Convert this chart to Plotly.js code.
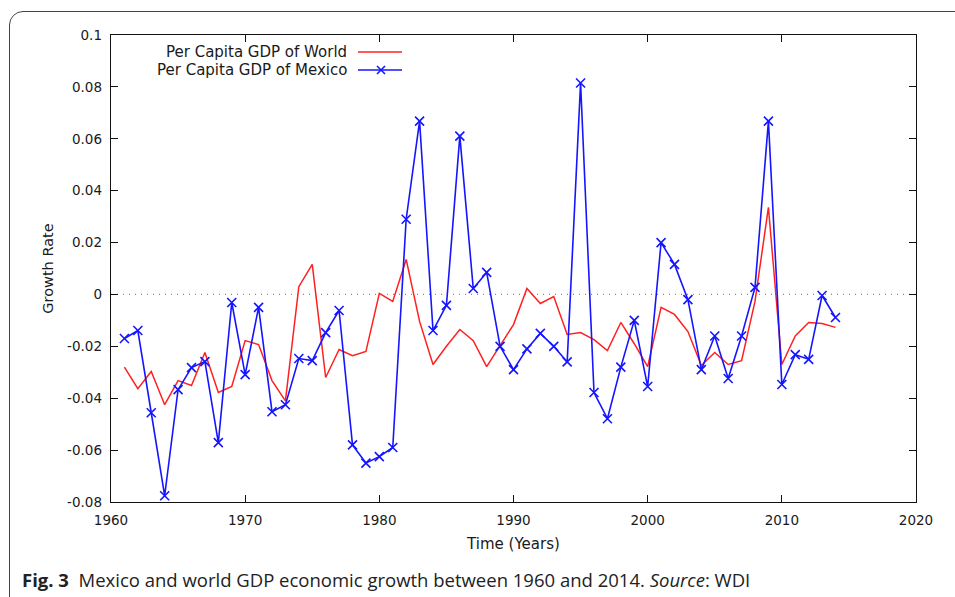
<!DOCTYPE html>
<html>
<head>
<meta charset="utf-8">
<script src="https://cdn.plot.ly/plotly-3.0.1.min.js"></script>
<style>
html,body{margin:0;padding:0;background:#fff;overflow:hidden;width:955px;height:597px;}
#frame{position:absolute;left:9px;top:11px;width:1000px;height:600px;border:1.3px solid #444;border-radius:14px;box-sizing:border-box;}
#chart{position:absolute;left:0;top:0;width:955px;height:597px;}
</style>
</head>
<body>
<div id="frame"></div>
<div id="chart"></div>
<script>
// ---- data ----
const years = [1961,1962,1963,1964,1965,1966,1967,1968,1969,1970,
  1971,1972,1973,1974,1975,1976,1977,1978,1979,1980,
  1981,1982,1983,1984,1985,1986,1987,1988,1989,1990,
  1991,1992,1993,1994,1995,1996,1997,1998,1999,2000,
  2001,2002,2003,2004,2005,2006,2007,2008,2009,2010,
  2011,2012,2013,2014];

const worldGrowth = [-0.028,-0.0363,-0.0297,-0.0425,-0.0332,-0.0351,-0.0224,-0.0378,-0.0355,-0.0178,
  -0.0193,-0.0332,-0.041,0.003,0.0116,-0.032,-0.0212,-0.0236,-0.022,0.0004,
  -0.0027,0.0135,-0.0104,-0.027,-0.020,-0.0135,-0.0178,-0.0278,-0.0197,-0.0116,
  0.0023,-0.0035,-0.0008,-0.0154,-0.0147,-0.0174,-0.0216,-0.0108,-0.019,-0.0278,
  -0.005,-0.0077,-0.0143,-0.0274,-0.0224,-0.027,-0.0255,-0.0027,0.0336,-0.027,
  -0.016,-0.0108,-0.0112,-0.0127];

const mexicoGrowth = [-0.017,-0.0139,-0.0456,-0.0776,-0.0367,-0.0282,-0.0259,-0.0571,-0.0031,-0.0309,
  -0.005,-0.0452,-0.0425,-0.0247,-0.0255,-0.0147,-0.0062,-0.058,-0.065,-0.0625,
  -0.059,0.029,0.0668,-0.0139,-0.0042,0.061,0.0023,0.0085,-0.020,-0.029,
  -0.021,-0.015,-0.020,-0.026,0.0815,-0.0378,-0.0479,-0.028,-0.010,-0.0355,
  0.020,0.0116,-0.002,-0.029,-0.016,-0.0324,-0.016,0.0027,0.0668,-0.0347,
  -0.0232,-0.025,-0.0004,-0.0089];

const seriesNames = ["Per Capita GDP of World", "Per Capita GDP of Mexico"];
const yTickVals = [-0.08,-0.06,-0.04,-0.02,0,0.02,0.04,0.06,0.08,0.1];
const yTickText = ["-0.08","-0.06","-0.04","-0.02","0","0.02","0.04","0.06","0.08","0.1"];
const xTickVals = [1960,1970,1980,1990,2000,2010,2020];
const xTickText = ["1960","1970","1980","1990","2000","2010","2020"];
const xTitle = "Time (Years)";
const yTitle = "Growth Rate";
const caption = "<b>Fig. 3</b>  Mexico and world GDP economic growth between 1960 and 2014. <i>Source</i>: WDI";

// ---- chart ----
const textColor = "#1a1a1a";
const tickFont = {family: "DejaVu Sans", size: 13.5, color: textColor};

const traces = [
  {x: years, y: worldGrowth, name: seriesNames[0], type: "scatter", mode: "lines",
   line: {color: "#ff2020", width: 1.5}},
  {x: years, y: mexicoGrowth, name: seriesNames[1], type: "scatter", mode: "lines+markers",
   line: {color: "#1515ff", width: 1.6},
   marker: {symbol: "x-thin-open", size: 9, color: "#1515ff", line: {color: "#1515ff", width: 1.6}}}
];

// plot-area geometry in pixels, converted to paper coordinates
const L = 111, R = 916, T = 35, B = 502;
const px = v => (v - L) / (R - L);
const py = v => (B - v) / (B - T);

const layout = {
  width: 955, height: 597,
  margin: {l: L, r: 955 - R, t: T, b: 597 - B},
  paper_bgcolor: "rgba(0,0,0,0)",
  plot_bgcolor: "rgba(0,0,0,0)",
  showlegend: false,
  xaxis: {
    range: [1960, 2020], tickvals: xTickVals, ticktext: xTickText,
    ticks: "inside", ticklen: 7, tickwidth: 1, tickcolor: "#111",
    showline: true, linecolor: "#111", linewidth: 1.3, mirror: "ticks",
    showgrid: false, zeroline: false, tickfont: tickFont, ticklabelstandoff: 5,
    title: {text: xTitle, font: {family: "DejaVu Sans", size: 15, color: textColor}, standoff: 12}
  },
  yaxis: {
    range: [-0.08, 0.1], tickvals: yTickVals, ticktext: yTickText,
    ticks: "inside", ticklen: 7, tickwidth: 1, tickcolor: "#111",
    showline: true, linecolor: "#111", linewidth: 1.3, mirror: "ticks",
    showgrid: false, zeroline: false, tickfont: tickFont, ticklabelstandoff: 5,
    title: {text: yTitle, font: {family: "DejaVu Sans", size: 14.5, color: textColor}, standoff: 10}
  },
  shapes: [
    {type: "line", xref: "paper", yref: "y", x0: 0, x1: 1, y0: 0, y1: 0,
     line: {color: "#8a8a8a", width: 1.3, dash: "1px,5px"}, layer: "below"},
    // legend samples
    {type: "line", xref: "paper", yref: "paper", x0: px(358), x1: px(402), y0: py(52), y1: py(52),
     line: {color: "#ff2020", width: 1.5}},
    {type: "line", xref: "paper", yref: "paper", x0: px(358), x1: px(402), y0: py(70), y1: py(70),
     line: {color: "#1515ff", width: 1.6}},
    {type: "line", xref: "paper", yref: "paper", x0: px(377), x1: px(385), y0: py(66), y1: py(74),
     line: {color: "#1515ff", width: 1.6}},
    {type: "line", xref: "paper", yref: "paper", x0: px(377), x1: px(385), y0: py(74), y1: py(66),
     line: {color: "#1515ff", width: 1.6}}
  ],
  annotations: [
    {text: seriesNames[0], xref: "paper", yref: "paper", x: px(349), y: py(52),
     xanchor: "right", yanchor: "middle", showarrow: false,
     font: {family: "DejaVu Sans", size: 15, color: textColor}},
    {text: seriesNames[1], xref: "paper", yref: "paper", x: px(349), y: py(70),
     xanchor: "right", yanchor: "middle", showarrow: false,
     font: {family: "DejaVu Sans", size: 15, color: textColor}},
    {text: caption, xref: "paper", yref: "paper", x: px(20), y: py(579),
     xanchor: "left", yanchor: "middle", showarrow: false,
     font: {family: "Open Sans", size: 18.5, color: "#222"}}
  ]
};

Plotly.newPlot("chart", traces, layout, {displayModeBar: false, staticPlot: true});
</script>
</body>
</html>
